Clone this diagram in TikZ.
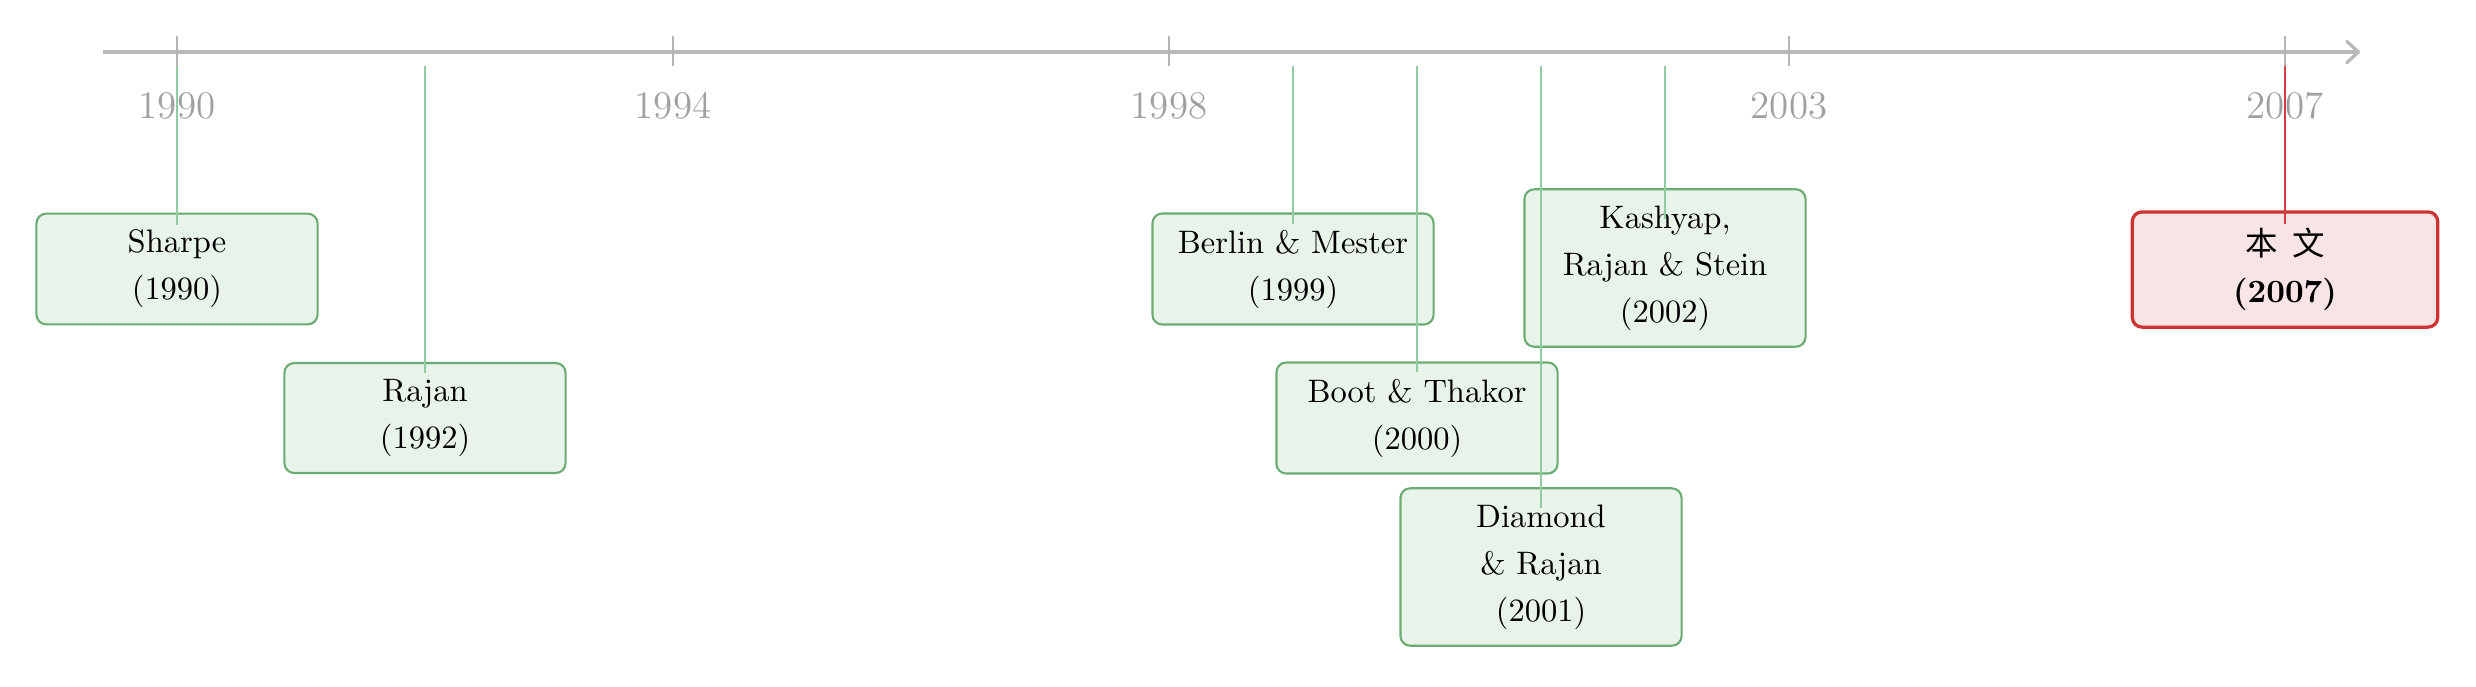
\documentclass[tikz,border=0pt]{standalone}
\usepackage{fontspec}
\newfontfamily\cjkfont{Noto Sans CJK SC}
\usetikzlibrary{arrows.meta,calc}
\definecolor{axisgray}{RGB}{185,185,185}
\definecolor{tickgray}{RGB}{180,180,180}
\definecolor{labelgray}{RGB}{160,160,160}
\definecolor{boxgreen}{RGB}{106,172,114}
\definecolor{fillgreen}{RGB}{232,243,234}
\definecolor{linkgreen}{RGB}{145,203,160}
\definecolor{boxred}{RGB}{204,51,51}
\definecolor{fillred}{RGB}{248,228,229}
\definecolor{linkred}{RGB}{208,64,64}
\begin{document}
\begin{tikzpicture}[x=0.3077pt,y=-0.3077pt,
  axisline/.style={draw=axisgray,line width=1pt,-{Straight Barb[length=3.6pt,width=6.6pt,round]}},
  tickline/.style={draw=tickgray,line width=0.45pt},
  yearlabel/.style={text=labelgray,font=\large,inner sep=0pt},
  paper/.style={draw=boxgreen,fill=fillgreen,line width=0.65pt,rounded corners=3pt,
    minimum width=86.5pt,align=center,inner ysep=5pt,inner xsep=3pt,
    font=\fontsize{10pt}{14.5pt}\selectfont},
  selfpaper/.style={paper,draw=boxred,fill=fillred,line width=1pt,minimum width=94pt},
  link/.style={draw=linkgreen,line width=0.45pt},
  selflink/.style={draw=linkred,line width=0.5pt}]
\useasboundingbox (0,0) rectangle (2476,686);
% axis
\coordinate (axstart) at (103,52);
\coordinate (axend) at (2360,52);
\draw[axisline] (axstart) -- (axend);
% ticks and year labels
\foreach \yr/\xx in {1990/177,1994/673,1998/1169,2003/1789,2007/2285}{
  \draw[tickline] (\xx,36) -- (\xx,66);
  \node[yearlabel] (l\yr) at (\xx,106) {\yr};
}
% papers
\node[paper] (sharpe) at (177,269) {Sharpe\\(1990)};
\node[paper] (rajan) at (425,418) {Rajan\\(1992)};
\node[paper] (berlin) at (1293,269) {Berlin \& Mester\\(1999)};
\node[paper] (boot) at (1417,418) {Boot \& Thakor\\(2000)};
\node[paper] (diamond) at (1541,567) {Diamond\\\& Rajan\\(2001)};
\node[paper] (kashyap) at (1665,268) {Kashyap,\\Rajan \& Stein\\(2002)};
\node[selfpaper] (self) at (2285,269.5) {{\cjkfont 本\hspace{0.45em}文}\\\textbf{(2007)}};
% connectors
\coordinate (c1990) at (177,66);
\coordinate (c1992) at (425,66);
\coordinate (c1999) at (1293,66);
\coordinate (c2000) at (1417,66);
\coordinate (c2001) at (1541,66);
\coordinate (c2002) at (1665,66);
\coordinate (c2007) at (2285,66);
\draw[link] (c1990) -- ($(sharpe.north)+(0,12)$);
\draw[link] (c1992) -- ($(rajan.north)+(0,11)$);
\draw[link] (c1999) -- ($(berlin.north)+(0,12)$);
\draw[link] (c2000) -- ($(boot.north)+(0,11)$);
\draw[link] (c2001) -- ($(diamond.north)+(0,21)$);
\draw[link] (c2002) -- ($(kashyap.north)+(0,31)$);
\draw[selflink] (c2007) -- ($(self.north)+(0,14)$);
\end{tikzpicture}
\end{document}
